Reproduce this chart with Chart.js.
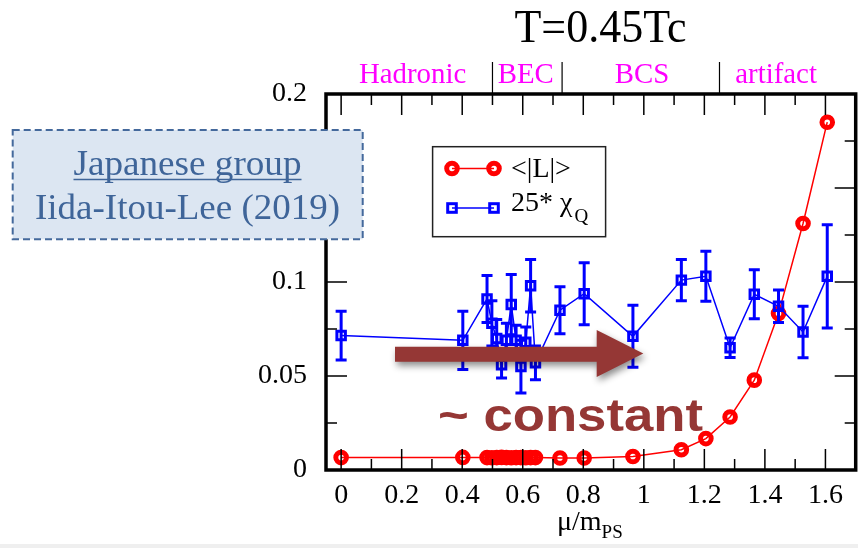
<!DOCTYPE html>
<html>
<head>
<meta charset="utf-8">
<script src="https://cdn.jsdelivr.net/npm/chart.js@4/dist/chart.umd.min.js"></script>
<style>
  html, body { margin: 0; padding: 0; background: #fff; overflow: hidden; }
  #wrap { position: relative; width: 858px; height: 548px; overflow: hidden;
          background: linear-gradient(#fff 544px, #efefef 544px); }
  #plot { position: absolute; left: 0; top: 0; }
</style>
</head>
<body>
<div id="wrap"><canvas id="plot" width="866" height="548"></canvas></div>
<script>
// mu / m_PS for every run
const muOverMps = [0, 0.402, 0.482, 0.498, 0.514, 0.530, 0.546, 0.562, 0.578, 0.594, 0.610,
                   0.626, 0.642, 0.723, 0.803, 0.964, 1.124, 1.205, 1.285, 1.365, 1.445,
                   1.526, 1.606];
// <|L|>
const polyakov = [0.0066, 0.0067, 0.0066, 0.0065, 0.0066, 0.0067, 0.0066, 0.0065, 0.0066,
                  0.0066, 0.0065, 0.0066, 0.0066, 0.0064, 0.0064, 0.0072, 0.0108, 0.0167,
                  0.0282, 0.0478, 0.0832, 0.1311, 0.185];
// 25 * chi_Q and its error
const chiQ = [0.0715, 0.069, 0.091, 0.078, 0.070, 0.056, 0.069, 0.088, 0.069, 0.055, 0.068,
              0.098, 0.057, 0.085, 0.0938, 0.0711, 0.101, 0.103, 0.065, 0.0935, 0.0871,
              0.0734, 0.103];
const chiQErr = [0.013, 0.0155, 0.0125, 0.012, 0.010, 0.007, 0.009, 0.016, 0.008, 0.014, 0.008,
                 0.014, 0.009, 0.0125, 0.0165, 0.0165, 0.011, 0.0133, 0.0052, 0.013, 0.0087,
                 0.0137, 0.0275];

const xTicks = [0, 0.2, 0.4, 0.6, 0.8, 1, 1.2, 1.4, 1.6];
const yTicks = [0, 0.05, 0.1, 0.15, 0.2];

const regionNames = ['Hadronic', 'BEC', 'BCS', 'artifact'];
const regionCentres = [0.236, 0.61, 0.994, 1.437];
const regionBounds = [0.5, 0.73, 1.25];

const SERIF = '"Liberation Serif", "Times New Roman", serif';
const RED = '#ff0000';
const BLUE = '#0000ff';
const BROWN = '#953735';

// draw text centred at cx, squeezed/stretched to a given width (and optional height factor)
function fitText(ctx, text, cx, baseline, width, sy = 1) {
  const w = ctx.measureText(text).width;
  ctx.save();
  ctx.translate(cx, baseline);
  ctx.scale(width / w, sy);
  ctx.textAlign = 'center';
  ctx.fillText(text, 0, 0);
  ctx.restore();
}

function hollowCircle(ctx, x, y) {
  ctx.beginPath();
  ctx.arc(x, y, 5.3, 0, Math.PI * 2);
  ctx.lineWidth = 5;
  ctx.strokeStyle = RED;
  ctx.stroke();
}

function hollowSquare(ctx, x, y) {
  ctx.lineWidth = 3;
  ctx.strokeStyle = BLUE;
  ctx.strokeRect(x - 4.3, y - 4.3, 8.6, 8.6);
}

const decor = {
  id: 'decor',
  afterDatasetsDraw(chart) {
    const { ctx, chartArea: a, scales: { x, y } } = chart;

    // error bars on chi_Q
    ctx.save();
    ctx.strokeStyle = BLUE;
    ctx.lineWidth = 3;
    muOverMps.forEach((m, i) => {
      const px = x.getPixelForValue(m);
      const top = y.getPixelForValue(chiQ[i] + chiQErr[i]);
      const bot = y.getPixelForValue(chiQ[i] - chiQErr[i]);
      ctx.beginPath();
      ctx.moveTo(px, top); ctx.lineTo(px, bot);
      ctx.moveTo(px - 5.5, top); ctx.lineTo(px + 5.5, top);
      ctx.moveTo(px - 5.5, bot); ctx.lineTo(px + 5.5, bot);
      ctx.stroke();
    });
    ctx.restore();

    // frame and inward ticks on all four sides
    ctx.save();
    ctx.strokeStyle = '#000';
    ctx.lineWidth = 1.5;
    ctx.beginPath();
    for (let i = 0; i <= 16; i++) {
      const px = x.getPixelForValue(i * 0.1);
      const len = i % 2 === 0 ? 21 : 11;
      ctx.moveTo(px, a.bottom); ctx.lineTo(px, a.bottom - len);
      ctx.moveTo(px, a.top); ctx.lineTo(px, a.top + len);
    }
    for (let i = 1; i < 8; i++) {
      const py = y.getPixelForValue(i * 0.025);
      const len = i % 2 === 0 ? 21 : 11;
      ctx.moveTo(a.left, py); ctx.lineTo(a.left + len, py);
      ctx.moveTo(a.right, py); ctx.lineTo(a.right - len, py);
    }
    ctx.stroke();
    ctx.lineWidth = 3.5;
    ctx.strokeRect(a.left, a.top, a.right - a.left, a.bottom - a.top);
    ctx.restore();
  },
  afterDraw(chart) {
    const { ctx, chartArea: a, scales: { x } } = chart;
    ctx.save();

    // title
    ctx.fillStyle = '#000';
    ctx.font = '44px ' + SERIF;
    fitText(ctx, 'T=0.45Tc', 600.5, 42, 172, 1.06);

    // region names above the frame
    ctx.fillStyle = '#ff00ff';
    ctx.font = '28px ' + SERIF;
    regionNames.forEach((name, i) => {
      const w = ctx.measureText(name).width;
      fitText(ctx, name, x.getPixelForValue(regionCentres[i]), 83, w * 1.03, 1.08);
    });
    ctx.strokeStyle = '#000';
    ctx.lineWidth = 1.2;
    ctx.beginPath();
    regionBounds.forEach(b => {
      const px = x.getPixelForValue(b);
      ctx.moveTo(px, 62); ctx.lineTo(px, a.top);
    });
    ctx.stroke();

    // x axis title
    ctx.fillStyle = '#000';
    ctx.textAlign = 'left';
    ctx.font = '28px ' + SERIF;
    ctx.fillText('\u03bc/m', 557, 530);
    const w = ctx.measureText('\u03bc/m').width;
    ctx.font = '19px ' + SERIF;
    ctx.fillText('PS', 557 + w, 538);

    // legend
    ctx.fillStyle = '#fff';
    ctx.fillRect(432.6, 146.7, 173, 90);
    ctx.strokeStyle = '#222';
    ctx.lineWidth = 1.5;
    ctx.strokeRect(432.6, 146.7, 173, 90);
    ctx.lineWidth = 1.5;
    ctx.strokeStyle = RED;
    ctx.beginPath(); ctx.moveTo(452, 168.5); ctx.lineTo(494, 168.5); ctx.stroke();
    hollowCircle(ctx, 452, 168.5);
    hollowCircle(ctx, 494, 168.5);
    ctx.lineWidth = 1.5;
    ctx.strokeStyle = BLUE;
    ctx.beginPath(); ctx.moveTo(452, 208); ctx.lineTo(494, 208); ctx.stroke();
    hollowSquare(ctx, 452, 208);
    hollowSquare(ctx, 494, 208);
    ctx.fillStyle = '#000';
    ctx.textAlign = 'left';
    ctx.font = '28px ' + SERIF;
    ctx.fillText('<|L|>', 511, 177);
    ctx.fillText('25* \u03c7', 511, 211);
    const cw = ctx.measureText('25* \u03c7').width;
    ctx.font = '19px ' + SERIF;
    ctx.fillText('Q', 513 + cw, 222);

    // group box, drawn over the axis
    ctx.fillStyle = '#dce6f2';
    ctx.fillRect(12.7, 130, 350, 109.3);
    ctx.setLineDash([7, 4]);
    ctx.strokeStyle = '#44699c';
    ctx.lineWidth = 2;
    ctx.strokeRect(12.7, 130, 350, 109.3);
    ctx.setLineDash([]);
    ctx.fillStyle = '#3f6599';
    ctx.font = '35px ' + SERIF;
    fitText(ctx, 'Japanese group', 187.5, 175, 228);
    ctx.strokeStyle = '#3f6599';
    ctx.lineWidth = 1.5;
    ctx.beginPath(); ctx.moveTo(73.5, 179.5); ctx.lineTo(301.5, 179.5); ctx.stroke();
    fitText(ctx, 'Iida-Itou-Lee (2019)', 187.5, 218.5, 305);

    // arrow with soft shadow
    ctx.save();
    ctx.shadowColor = 'rgba(0,0,0,0.45)';
    ctx.shadowBlur = 7;
    ctx.shadowOffsetX = 2;
    ctx.shadowOffsetY = 4;
    ctx.fillStyle = BROWN;
    ctx.beginPath();
    ctx.moveTo(395, 346.7);
    ctx.lineTo(596.7, 346.7);
    ctx.lineTo(596.7, 330);
    ctx.lineTo(643.3, 353.5);
    ctx.lineTo(596.7, 377);
    ctx.lineTo(596.7, 361.7);
    ctx.lineTo(395, 361.7);
    ctx.closePath();
    ctx.fill();
    ctx.restore();

    ctx.fillStyle = BROWN;
    ctx.font = 'bold 47px "Liberation Sans", Arial, sans-serif';
    fitText(ctx, '~ constant', 570.5, 431, 265);

    ctx.restore();
  }
};

new Chart(document.getElementById('plot'), {
  type: 'scatter',
  data: {
    datasets: [{
      label: '25* chi_Q',
      data: muOverMps.map((m, i) => ({ x: m, y: chiQ[i] })),
      showLine: true,
      borderColor: BLUE,
      borderWidth: 1.5,
      pointStyle: 'rect',
      pointRadius: 6,
      pointBorderWidth: 3,
      pointBorderColor: BLUE,
      pointBackgroundColor: 'rgba(0,0,0,0)'
    }, {
      label: '<|L|>',
      data: muOverMps.map((m, i) => ({ x: m, y: polyakov[i] })),
      showLine: true,
      borderColor: RED,
      borderWidth: 1.5,
      pointStyle: 'circle',
      pointRadius: 5.3,
      pointBorderWidth: 5,
      pointBorderColor: RED,
      pointBackgroundColor: 'rgba(0,0,0,0)'
    }]
  },
  options: {
    responsive: false,
    animation: false,
    devicePixelRatio: 1,
    layout: { padding: { left: 0, right: 7, top: 94, bottom: 0 } },
    plugins: { legend: { display: false }, tooltip: { enabled: false } },
    events: [],
    scales: {
      x: {
        type: 'linear',
        min: -0.05,
        max: 1.7,
        afterFit: s => { s.height = 78; },
        afterBuildTicks: s => { s.ticks = xTicks.map(v => ({ value: v })); },
        grid: { display: false },
        border: { display: false },
        ticks: {
          color: '#000',
          font: { family: SERIF, size: 28 },
          padding: 1,
          maxRotation: 0,
          autoSkip: false,
          callback: v => String(+v.toFixed(2))
        }
      },
      y: {
        type: 'linear',
        min: 0,
        max: 0.2,
        afterFit: s => { s.width = 326; },
        afterBuildTicks: s => { s.ticks = yTicks.map(v => ({ value: v })); },
        grid: { display: false },
        border: { display: false },
        ticks: {
          color: '#000',
          font: { family: SERIF, size: 28 },
          padding: 11,
          autoSkip: false,
          callback: v => String(+v.toFixed(3))
        }
      }
    }
  },
  plugins: [decor]
});
</script>
</body>
</html>
